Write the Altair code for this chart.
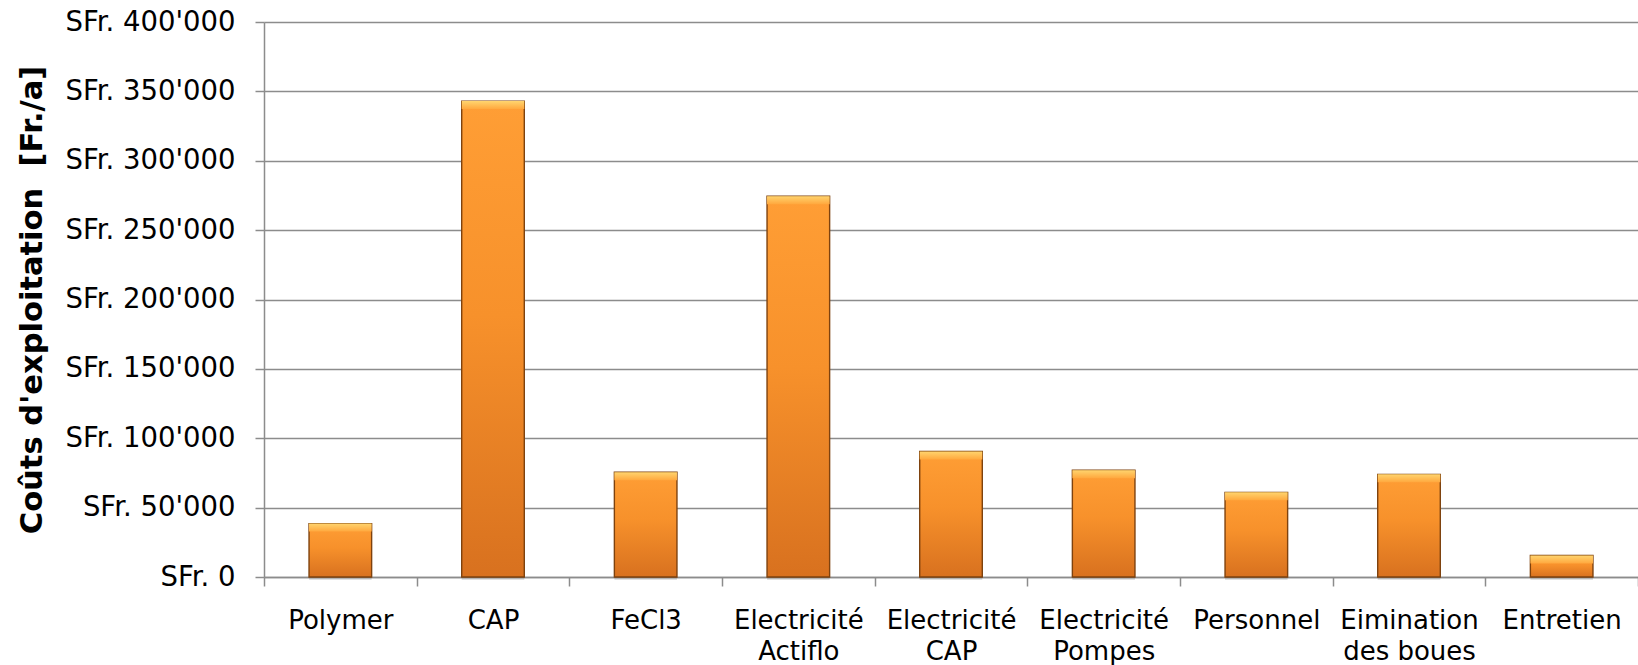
import altair as alt
import pandas as pd

# Annual operating costs per item (CHF / year)
categories = [
    "Polymer",
    "CAP",
    "FeCl3",
    "Electricité\nActiflo",
    "Electricité\nCAP",
    "Electricité\nPompes",
    "Personnel",
    "Eimination\ndes boues",
    "Entretien",
]
costs = [38500, 343000, 75500, 274500, 90500, 77000, 61000, 74000, 15500]

df = pd.DataFrame({"poste": categories, "cout": costs})

FONT = "DejaVu Sans"
GRID = "#8c8c8c"

x_enc = alt.X(
    "poste:N",
    sort=categories,
    title=None,
    scale=alt.Scale(paddingInner=0, paddingOuter=0),
    axis=alt.Axis(
        labelExpr="split(datum.label, '\\n')",
        labelAngle=0,
        labelFont=FONT,
        labelFontSize=26,
        labelColor="#000000",
        labelLineHeight=31,
        labelPadding=21,
        labelBaseline="top",
        tickBand="extent",
        tickSize=9,
        tickColor=GRID,
        tickWidth=1.5,
        domainColor=GRID,
        domainWidth=1.5,
        grid=False,
    ),
)

y_enc = alt.Y(
    "cout:Q",
    title="Coûts d'exploitation \u00a0[Fr./a]",
    scale=alt.Scale(domain=[0, 400000], nice=False),
    axis=alt.Axis(
        values=[0, 50000, 100000, 150000, 200000, 250000, 300000, 350000, 400000],
        labelExpr="'SFr. ' + replace(format(datum.value, ','), regexp(',', 'g'), \"'\")",
        labelFont=FONT,
        labelFontSize=27.5,
        labelColor="#000000",
        labelPadding=20,
        tickSize=9,
        tickColor=GRID,
        tickWidth=1.5,
        domainColor=GRID,
        domainWidth=1.5,
        grid=True,
        gridColor=GRID,
        gridWidth=1.5,
        titleFont=FONT,
        titleFontSize=30.5,
        titleFontWeight="bold",
        titleColor="#000000",
        titlePadding=17,
    ),
)

body_fill = alt.Gradient(
    gradient="linear",
    x1=0, y1=0, x2=0, y2=1,
    stops=[
        alt.GradientStop(color="#FF9E35", offset=0),
        alt.GradientStop(color="#F7912B", offset=0.45),
        alt.GradientStop(color="#D8711F", offset=1),
    ],
)

bevel_fill = alt.Gradient(
    gradient="linear",
    x1=0, y1=0, x2=0, y2=1,
    stops=[
        alt.GradientStop(color="#FFD46E", offset=0),
        alt.GradientStop(color="#FFA83E", offset=1),
    ],
)

bar_w = alt.RelativeBandSize(0.41)

shadow = alt.Chart(df).mark_bar(
    width=bar_w, color="#000000", opacity=0.12, yOffset=3, y2Offset=3
).encode(x=x_enc, y=alt.Y("cout:Q"), y2=alt.datum(0))

bars = alt.Chart(df).mark_bar(
    width=bar_w, fill=body_fill, stroke="#7E420E", strokeWidth=1.4
).encode(x=x_enc, y=y_enc)

bevel = alt.Chart(df).mark_bar(
    width=bar_w, fill=bevel_fill, y2Offset=8
).encode(x=x_enc, y=alt.Y("cout:Q"), y2=alt.Y2("cout:Q"))

chart = (
    alt.layer(shadow, bars, bevel)
    .properties(
        width=1374,
        height=555,
        autosize=alt.AutoSizeParams(type="none"),
        padding={"left": 264, "top": 22, "right": 0, "bottom": 88},
        background="#ffffff",
    )
    .configure_view(stroke=None)
)

chart.save("out.html", embed_options={"renderer": "svg", "actions": False})
